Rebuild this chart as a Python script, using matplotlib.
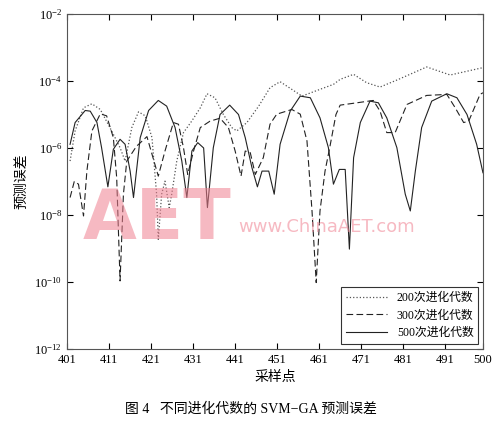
import numpy as np
import matplotlib.pyplot as plt

plt.rcParams['font.family'] = ['Liberation Serif', 'Noto Sans CJK SC']
plt.rcParams['mathtext.fontset'] = 'stix'

# sample index / log10(error)
x200 = [401.7, 402.9, 404.9, 406.9, 408.9, 411.6, 413.6, 414.8, 416.4, 418.0, 419.6,
        421.2, 422.3, 422.7, 423.5, 424.3, 425.3, 425.9, 427.1, 428.7, 430.7, 432.7,
        434.3, 436.2, 438.2, 440.2, 441.4, 443.8, 446.6, 449.3, 451.7, 454.5, 456.9,
        460.1, 464.4, 466.0, 469.2, 472.3, 475.5, 479.9, 486.6, 492.2, 500.0]
e200 = [-6.39, -5.49, -4.80, -4.68, -4.85, -5.49, -5.99, -6.39, -5.39, -4.92, -5.04,
        -5.69, -7.38, -8.73, -7.38, -6.99, -7.78, -7.38, -6.39, -5.54, -5.19, -4.80,
        -4.38, -4.50, -5.00, -5.39, -5.49, -5.24, -4.75, -4.20, -4.02, -4.25, -4.45,
        -4.30, -4.10, -3.95, -3.80, -4.05, -4.18, -3.95, -3.58, -3.82, -3.60]

x300 = [401.7, 402.7, 403.7, 404.9, 405.7, 406.9, 408.9, 410.4, 412.0, 412.8, 413.6,
        414.4, 415.2, 417.5, 420.0, 422.7, 424.3, 426.3, 427.5, 428.7, 429.7, 431.1,
        432.7, 435.0, 437.4, 439.4, 441.0, 442.4, 443.4, 444.6, 445.8, 447.7, 449.3,
        450.9, 454.5, 456.5, 458.1, 459.3, 460.3, 461.2, 462.4, 463.5, 465.0, 466.0,
        470.0, 473.9, 475.5, 477.1, 479.1, 481.9, 486.6, 491.4, 493.4, 495.4, 496.6,
        499.3, 500.0]
e300 = [-7.48, -7.00, -7.08, -8.03, -6.69, -5.49, -4.98, -5.04, -5.69, -6.89, -9.97,
        -7.38, -6.39, -5.95, -5.66, -6.84, -6.09, -5.24, -5.29, -5.99, -6.79, -6.09,
        -5.39, -5.20, -5.11, -5.39, -6.09, -6.84, -6.09, -6.14, -6.79, -6.29, -5.29,
        -4.99, -4.85, -4.99, -5.79, -7.88, -10.02, -7.88, -6.69, -6.00, -5.00, -4.72,
        -4.65, -4.58, -4.90, -5.54, -5.54, -4.70, -4.43, -4.40, -4.80, -5.24, -5.20,
        -4.40, -4.35]

x500 = [401.7, 402.9, 405.3, 406.5, 408.1, 409.2, 410.7, 412.0, 413.6, 414.8, 416.0,
        416.8, 418.4, 420.4, 422.7, 424.7, 426.7, 428.3, 429.5, 430.7, 432.1, 433.5,
        434.4, 435.8, 437.4, 439.7, 441.8, 443.4, 445.0, 446.3, 447.4, 449.0, 450.3,
        451.7, 454.1, 456.5, 458.9, 461.2, 463.2, 464.4, 465.8, 467.2, 468.2, 469.2,
        470.8, 473.1, 475.1, 477.1, 479.5, 481.5, 482.7, 483.9, 485.4, 487.8, 491.4,
        493.8, 496.2, 498.5, 500.0]
e500 = [-5.89, -5.24, -4.88, -4.90, -5.24, -5.99, -7.16, -6.04, -5.74, -5.89, -6.69,
        -7.48, -5.69, -4.88, -4.58, -4.75, -5.39, -6.39, -7.48, -6.09, -5.84, -6.00,
        -7.78, -5.99, -5.00, -4.72, -5.00, -5.69, -6.59, -7.16, -6.69, -6.69, -7.38,
        -5.89, -4.90, -4.45, -4.50, -5.10, -5.99, -7.08, -6.64, -6.64, -9.02, -6.29,
        -5.24, -4.60, -4.65, -5.10, -5.99, -7.38, -7.88, -6.69, -5.39, -4.60, -4.38,
        -4.50, -5.00, -5.89, -6.74]

xticks = [401, 411, 421, 431, 441, 451, 461, 471, 481, 491, 500]

fig = plt.figure(figsize=(5.01, 4.26), dpi=100)
ax = fig.add_axes([0.134, 0.181, 0.830, 0.786])
ax.semilogy(x200, 10.0 ** np.array(e200), color='#555555', ls=':', lw=0.9, label='200次进化代数')
ax.semilogy(x300, 10.0 ** np.array(e300), color='#222222', ls=(0, (6, 3)), lw=0.8, label='300次进化代数')
ax.semilogy(x500, 10.0 ** np.array(e500), color='#222222', ls='-', lw=0.8, label='500次进化代数')

ax.set_xlim(401, 500)
ax.set_ylim(1e-12, 1e-2)
ax.set_xticks(xticks)
ax.set_yticks([1e-12, 1e-10, 1e-8, 1e-6, 1e-4, 1e-2])
ax.minorticks_off()
ax.tick_params(direction='in', labelsize=9, top=True, right=True, length=4)
for s in ax.spines.values():
    s.set_color('#555555')
ax.set_xlabel('采样点', fontsize=10)
ax.set_ylabel('预测误差', fontsize=10)

leg = ax.legend(loc='lower right', fontsize=8.5, fancybox=False, edgecolor='black',
                handlelength=3.5, borderaxespad=0.4)
leg.get_frame().set_linewidth(0.8)

# watermark
fig.text(0.165, 0.44, 'AET', color='#f08090', alpha=0.55, fontsize=50, fontweight='bold',
         family='DejaVu Sans', zorder=0)
fig.text(0.475, 0.455, 'www.ChinaAET.com', color='#f08090', alpha=0.55, fontsize=13,
         family='DejaVu Sans', zorder=0)

fig.text(0.5, 0.03, '图 4   不同进化代数的 SVM−GA 预测误差', ha='center', fontsize=10)

fig.savefig('out.png', dpi=100)
